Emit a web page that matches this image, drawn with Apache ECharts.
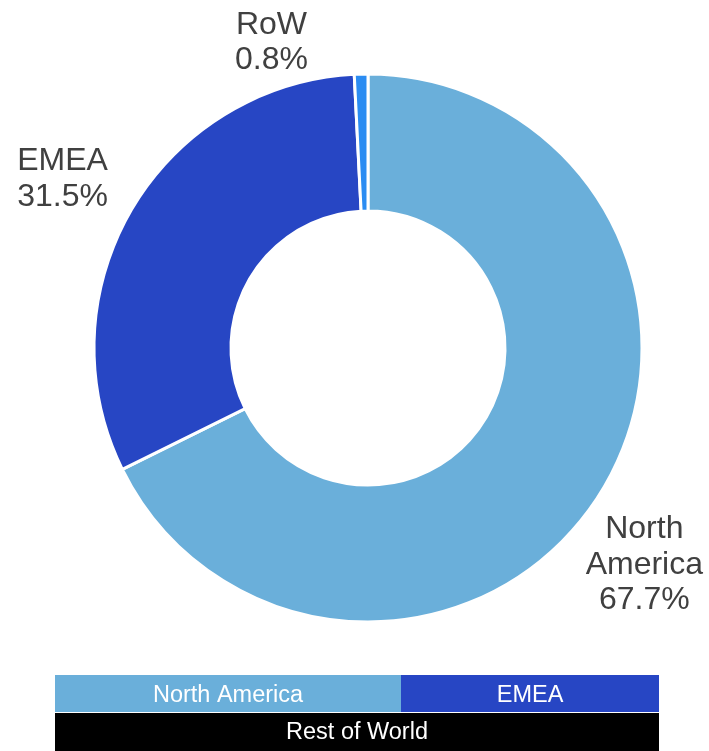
<!DOCTYPE html>
<html>
<head>
<meta charset="utf-8">
<script src="https://cdn.jsdelivr.net/npm/echarts@6/dist/echarts.min.js"></script>
<style>html,body{margin:0;padding:0;background:#fff;}#chart{width:709px;height:751px;}</style>
</head>
<body>
<div id="chart"></div>
<script>
var categories = ['North America', 'EMEA', 'Rest of World'];
var labelNames = ['North\nAmerica', 'EMEA', 'RoW'];
var values = [67.7, 31.5, 0.8];
var colors = ['#6AAFDA', '#2746C4', '#2B8CF2'];
var legendColors = ['#6AAFDA', '#2746C4', '#000000'];

var chart = echarts.init(document.getElementById('chart'));
var CX = 368, CY = 348, R0 = 137, R1 = 274;
var total = values.reduce(function (a, b) { return a + b; }, 0);
// label placement: angular shift from slice middle and distance from centre
var labelAngleShift = [-6.0, 1.2, 16.0];
var labelRadius = [350, 350, 322];

var data = categories.map(function (c, i) {
  return { name: c, value: values[i], itemStyle: { color: colors[i] } };
});

var legendFont = '23.5px Liberation Sans, Arial, sans-serif';

var option = {
  animation: false,
  series: [{
    type: 'pie',
    center: [CX, CY],
    radius: [R0, R1],
    startAngle: 90,
    clockwise: true,
    data: data,
    itemStyle: { borderColor: '#ffffff', borderWidth: 3 },
    label: {
      show: true,
      position: 'outside',
      alignTo: 'none',
      overflow: 'none',
      formatter: function (p) { return labelNames[p.dataIndex] + '\n' + p.value.toFixed(1) + '%'; },
      fontFamily: 'Liberation Sans, Arial, sans-serif',
      fontSize: 32,
      lineHeight: 35.5,
      color: '#404040',
      align: 'center'
    },
    labelLine: { show: false },
    labelLayout: function (params) {
      var i = params.dataIndex;
      var before = 0;
      for (var k = 0; k < i; k++) before += values[k];
      var mid = 90 - (before + values[i] / 2) / total * 360 + labelAngleShift[i];
      var rad = mid * Math.PI / 180;
      var r = labelRadius[i];
      return {
        x: CX + r * Math.cos(rad),
        y: CY - r * Math.sin(rad) + 2,
        align: 'center',
        verticalAlign: 'middle',
        width: 220
      };
    }
  }],
  graphic: [
    { type: 'rect', shape: { x: 55, y: 675, width: 346, height: 37 }, style: { fill: legendColors[0] } },
    { type: 'rect', shape: { x: 401, y: 675, width: 258, height: 37 }, style: { fill: legendColors[1] } },
    { type: 'rect', shape: { x: 55, y: 713, width: 604, height: 38 }, style: { fill: legendColors[2] } },
    { type: 'text', x: 228, y: 696, style: { text: categories[0], fill: '#fff', font: legendFont, textAlign: 'center', textVerticalAlign: 'middle' } },
    { type: 'text', x: 530, y: 696, style: { text: categories[1], fill: '#fff', font: legendFont, textAlign: 'center', textVerticalAlign: 'middle' } },
    { type: 'text', x: 357, y: 733, style: { text: categories[2], fill: '#fff', font: legendFont, textAlign: 'center', textVerticalAlign: 'middle' } }
  ]
};
chart.setOption(option);
</script>
</body>
</html>
